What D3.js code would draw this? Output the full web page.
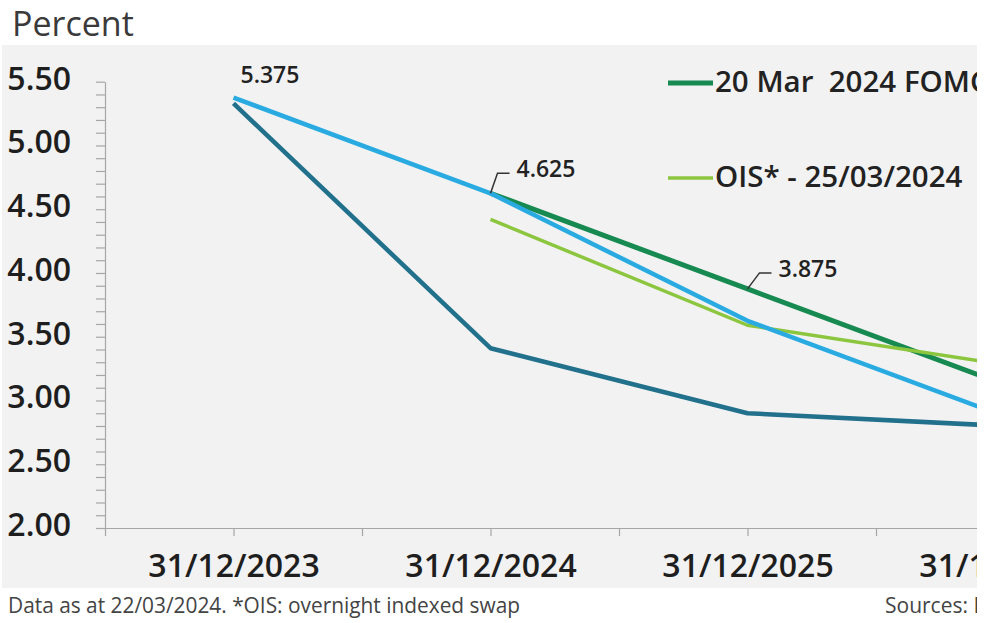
<!DOCTYPE html>
<html>
<head>
<meta charset="utf-8">
<script src="https://cdn.jsdelivr.net/npm/d3@7"></script>
<style>
  html, body { margin: 0; padding: 0; background: #fff; }
  svg { display: block; font-family: "Open Sans", "Noto Sans", sans-serif; }
</style>
</head>
<body>
<div id="chart"></div>
<script>
// categories on the x axis (year ends)
const categories = ["31/12/2023", "31/12/2024", "31/12/2025", "31/12/2026"];

// series values, one per category (null = no point)
const dec2023Fomc = [5.375, 4.625, 3.625, 2.875];
const mar2024Fomc = [null, 4.625, 3.875, 3.125];
const ois = [null, 4.42, 3.59, 3.28];
const altPath = [5.33, 3.41, 2.90, 2.80];

// y axis tick labels
const yMajor = [2.00, 2.50, 3.00, 3.50, 4.00, 4.50, 5.00, 5.50];

const W = 996, H = 623;
const clipRight = 977;

const svg = d3.select("#chart").append("svg")
  .attr("width", W)
  .attr("height", H);

svg.append("defs").append("clipPath")
  .attr("id", "crop")
  .append("rect")
  .attr("x", 0).attr("y", 0)
  .attr("width", clipRight).attr("height", H);

const root = svg.append("g").attr("clip-path", "url(#crop)");

// grey plot panel
root.append("rect")
  .attr("x", 2).attr("y", 45)
  .attr("width", clipRight - 2).attr("height", 543)
  .attr("fill", "#f2f2f2");

// title
svg.append("text")
  .attr("x", 12).attr("y", 36)
  .style("font-size", "34px")
  .attr("fill", "#3a3a3a")
  .text("Percent");

const x = d3.scaleLinear().domain([-0.5, 3.5]).range([105, 105 + 4 * 257]);
const y = d3.scaleLinear().domain([2, 5.5]).range([528, 81.7]);

// y axis: minor ticks every 0.1, labels on the halves
const yTicks = d3.range(20, 56).map(d => d / 10);
const yAxis = root.append("g")
  .attr("transform", `translate(${x(-0.5)},0)`)
  .call(d3.axisLeft(y)
    .tickValues(yTicks)
    .tickSize(9)
    .tickSizeOuter(0)
    .tickPadding(25)
    .tickFormat(d => yMajor.some(m => Math.abs(m - d) < 1e-6) ? d3.format(".2f")(d) : ""));

yAxis.select(".domain").attr("stroke", "#a6a6a6").attr("stroke-width", 1.2);
yAxis.selectAll(".tick line").attr("stroke", "#a6a6a6").attr("stroke-width", 1.2);
yAxis.selectAll("text")
  .attr("dy", "0.23em")
  .attr("fill", "#1e1e1e")
  .style("font-size", "32px")
  .style("font-weight", 600)
  .style("font-family", "'Open Sans', sans-serif");

// x axis: ticks every half year-step, labels at the categories
const xTicks = d3.range(-1, 8).map(d => d / 2);
const xAxis = root.append("g")
  .attr("transform", `translate(0,${y(2)})`)
  .call(d3.axisBottom(x)
    .tickValues(xTicks)
    .tickSize(8)
    .tickSizeOuter(0)
    .tickFormat(d => Number.isInteger(d) && categories[d] ? categories[d] : ""));

xAxis.select(".domain").attr("stroke", "#a6a6a6").attr("stroke-width", 1.2);
xAxis.selectAll(".tick line").attr("stroke", "#a6a6a6").attr("stroke-width", 1.2);
xAxis.selectAll("text")
  .attr("y", 49)
  .attr("dy", 0)
  .attr("fill", "#1e1e1e")
  .style("font-size", "32px")
  .style("font-weight", 600)
  .style("font-family", "'Open Sans', sans-serif");

// lines
const line = d3.line()
  .defined(d => d != null)
  .x((d, i) => x(i))
  .y(d => y(d));

const series = [
  { name: "path", values: altPath, color: "#21708c", width: 4.5 },
  { name: "20 Mar  2024 FOMC", values: mar2024Fomc, color: "#178a52", width: 5 },
  { name: "OIS* - 25/03/2024", values: ois, color: "#8cc63f", width: 3.5 },
  { name: "Dec 2023 FOMC", values: dec2023Fomc, color: "#29abe2", width: 4.5 }
];

root.append("g")
  .selectAll("path")
  .data(series)
  .join("path")
  .attr("fill", "none")
  .attr("stroke", d => d.color)
  .attr("stroke-width", d => d.width)
  .attr("stroke-linejoin", "round")
  .attr("d", d => line(d.values));

// value labels
const labels = root.append("g")
  .style("font-size", "23px")
  .style("font-weight", 600)
  .attr("fill", "#222");

labels.append("text")
  .attr("x", x(0) + 7)
  .attr("y", y(dec2023Fomc[0]) - 15)
  .text(d3.format(".3f")(dec2023Fomc[0]));

function callout(px, py, dx, dy, value) {
  labels.append("path")
    .attr("d", `M${px},${py}L${px + dx},${py + dy}L${px + dx + 12},${py + dy}`)
    .attr("fill", "none")
    .attr("stroke", "#333")
    .attr("stroke-width", 1.5);
  labels.append("text")
    .attr("x", px + dx + 19)
    .attr("y", py + dy + 4)
    .text(d3.format(".3f")(value));
}

callout(x(1), y(dec2023Fomc[1]), 7, -20, dec2023Fomc[1]);
callout(x(2), y(mar2024Fomc[2]), 12, -16, mar2024Fomc[2]);

// legend
const legend = root.append("g")
  .selectAll("g")
  .data([series[1], series[2]])
  .join("g")
  .attr("transform", (d, i) => `translate(668,${83 + i * 95})`);

legend.append("line")
  .attr("x1", 0).attr("x2", 45)
  .attr("stroke", d => d.color)
  .attr("stroke-width", d => d.width);

legend.append("text")
  .attr("x", 47)
  .attr("y", 9)
  .style("font-size", "29.5px")
  .style("font-weight", 600)
  .style("white-space", "pre")
  .attr("fill", "#222")
  .text(d => d.name);

// footer
root.append("text")
  .attr("x", 8).attr("y", 613)
  .style("font-size", "21px")
  .attr("fill", "#444")
  .attr("textLength", 512)
  .attr("lengthAdjust", "spacingAndGlyphs")
  .text("Data as at 22/03/2024. *OIS: overnight indexed swap");

root.append("text")
  .attr("x", 885).attr("y", 613)
  .style("font-size", "21px")
  .attr("fill", "#444")
  .text("Sources: Bloomberg");
</script>
</body>
</html>
